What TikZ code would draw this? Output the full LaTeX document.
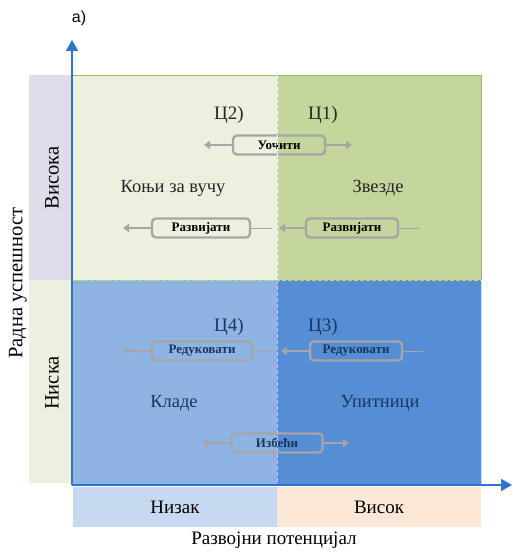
\documentclass[tikz,border=0pt]{standalone}
\usepackage{fontspec}
\setmainfont{Liberation Serif}
\newfontfamily\labelsans{Liberation Sans}
\usetikzlibrary{arrows.meta}

\definecolor{qTL}{HTML}{EBF1DE}
\definecolor{qTR}{HTML}{C3D69B}
\definecolor{qBL}{HTML}{8EB4E3}
\definecolor{qBR}{HTML}{558ED5}
\definecolor{stripHigh}{HTML}{E1DCEA}
\definecolor{stripLow}{HTML}{EBF1DE}
\definecolor{stripLowX}{HTML}{C6D9F1}
\definecolor{stripHighX}{HTML}{FCE6D6}
\definecolor{boxgray}{HTML}{A6A6A6}
\definecolor{axisblue}{HTML}{2F75CF}
\definecolor{greenedge}{HTML}{9BBB59}
\definecolor{dashyellow}{HTML}{C9D66A}
\definecolor{navytext}{HTML}{17375E}
\definecolor{darktext}{HTML}{262626}

\tikzset{
  bigtext/.style={font=\fontsize{18.5}{20}\selectfont, text=darktext},
  bigtextlow/.style={font=\fontsize{18.5}{20}\selectfont, text=navytext},
  tagtext/.style={font=\fontsize{19}{21}\selectfont},
  sidetext/.style={font=\fontsize{20.5}{22}\selectfont, rotate=90},
  actionbox/.style={draw=boxgray, line width=2.3pt, rounded corners=4pt,
    minimum height=19pt, inner sep=0pt,
    font=\bfseries\fontsize{13}{14}\selectfont},
  thickarrow/.style={draw=boxgray, line width=2.6pt,
    -{Triangle[length=6pt,width=8pt]}},
  thinline/.style={draw=boxgray, line width=0.6pt},
  axis/.style={draw=axisblue, line width=1.8pt,
    -{Triangle[length=11pt,width=12pt]}},
}

\begin{document}
\begin{tikzpicture}[x=1pt,y=1pt]
\useasboundingbox (0,0) rectangle (512,552);

% side strips
\fill[stripHigh] (29,272) rectangle (72,477);
\fill[stripLow]  (29,69)  rectangle (72,272);
\fill[stripLowX] (73,25)  rectangle (277,65);
\fill[stripHighX](277,25) rectangle (481,65);

% the four quadrants
\fill[qTL] (72,272) rectangle (277,477);
\fill[qTR] (277,272) rectangle (481,477);
\fill[qBL] (72,67) rectangle (277,272);
\fill[qBR] (277,67) rectangle (481,272);
\draw[greenedge, line width=0.8pt] (72,477) -- (481,477) -- (481,272);
\draw[dashyellow!60!white, line width=0.6pt] (481,272) -- (481,67);

% strip labels
\node[sidetext] (vis) at (52,374) {Висока};
\node[sidetext] (nis) at (52,169) {Ниска};
\node[sidetext] (ylab) at (18,269) {Радна успешност};
\node[tagtext] (niz) at (175,45) {Низак};
\node[tagtext] (vsk) at (379,45) {Висок};
\node[tagtext] (xlab) at (274,12) {Развојни потенцијал};
\node[font=\labelsans\fontsize{16}{18}\selectfont] (tag) at (79,534) {a)};

% quadrant titles
\node[tagtext, text=darktext] (c2) at (229,437) {Ц2)};
\node[tagtext, text=darktext] (c1) at (323,437) {Ц1)};
\node[tagtext, text=navytext] (c4) at (229,225) {Ц4)};
\node[tagtext, text=navytext] (c3) at (323,225) {Ц3)};
\node[bigtext] (konji) at (173,364) {Коњи за вучу};
\node[bigtext] (zvezde) at (378,364) {Звезде};
\node[bigtextlow] (klade) at (174,149) {Кладе};
\node[bigtextlow] (upit) at (380,149) {Упитници};

% action boxes
\node[actionbox, minimum width=92pt] (uoc) at (279,407) {Уочити};
\node[actionbox, minimum width=98pt] (razL) at (201,324) {Развијати};
\node[actionbox, minimum width=92pt] (razR) at (352,324) {Развијати};
\node[actionbox, minimum width=100pt, text=navytext] (redL) at (202,201) {Редуковати};
\node[actionbox, minimum width=92pt, text=navytext] (redR) at (356,201) {Редуковати};
\node[actionbox, minimum width=91pt, text=navytext] (izb) at (277,109) {Избећи};

% arrow ends
\coordinate (uocL) at (204,407);
\coordinate (uocR) at (352,407);
\coordinate (razLL) at (123,324);
\coordinate (razLR) at (272,324);
\coordinate (razRL) at (279,324);
\coordinate (razRR) at (419,324);
\coordinate (redLL) at (123,201);
\coordinate (redLR) at (276,201);
\coordinate (redRL) at (281,201);
\coordinate (redRR) at (423,201);
\coordinate (izbL) at (202,109);
\coordinate (izbR) at (349,109);

\draw[thickarrow] (uoc.west) -- (uocL);
\draw[thickarrow] (uoc.east) -- (uocR);
\draw[thickarrow] (razL.west) -- (razLL);
\draw[thinline] (razL.east) -- (razLR);
\draw[thickarrow] (razR.west) -- (razRL);
\draw[thinline] (razR.east) -- (razRR);
\draw[thickarrow] (redL.west) -- (redLL);
\draw[thinline] (redL.east) -- (redLR);
\draw[thickarrow] (redR.west) -- (redRL);
\draw[thinline] (redR.east) -- (redRR);
\draw[thickarrow] (izb.west) -- (izbL);
\draw[thickarrow] (izb.east) -- (izbR);

% dashed quadrant dividers
\draw[white, line width=0.9pt, dash pattern=on 4pt off 2pt] (277,477) -- (277,272);
\draw[dashyellow, line width=0.9pt, dash pattern=on 4pt off 2pt] (277,272) -- (277,67);
\draw[dashyellow, line width=0.9pt, dash pattern=on 4pt off 2pt] (72,272) -- (481,272);

% axes
\coordinate (origin) at (72,67);
\coordinate (ytip) at (72,512);
\coordinate (xtip) at (512,67);
\draw[axis] (origin) -- (ytip);
\draw[axis] (origin) -- (xtip);
\end{tikzpicture}
\end{document}
